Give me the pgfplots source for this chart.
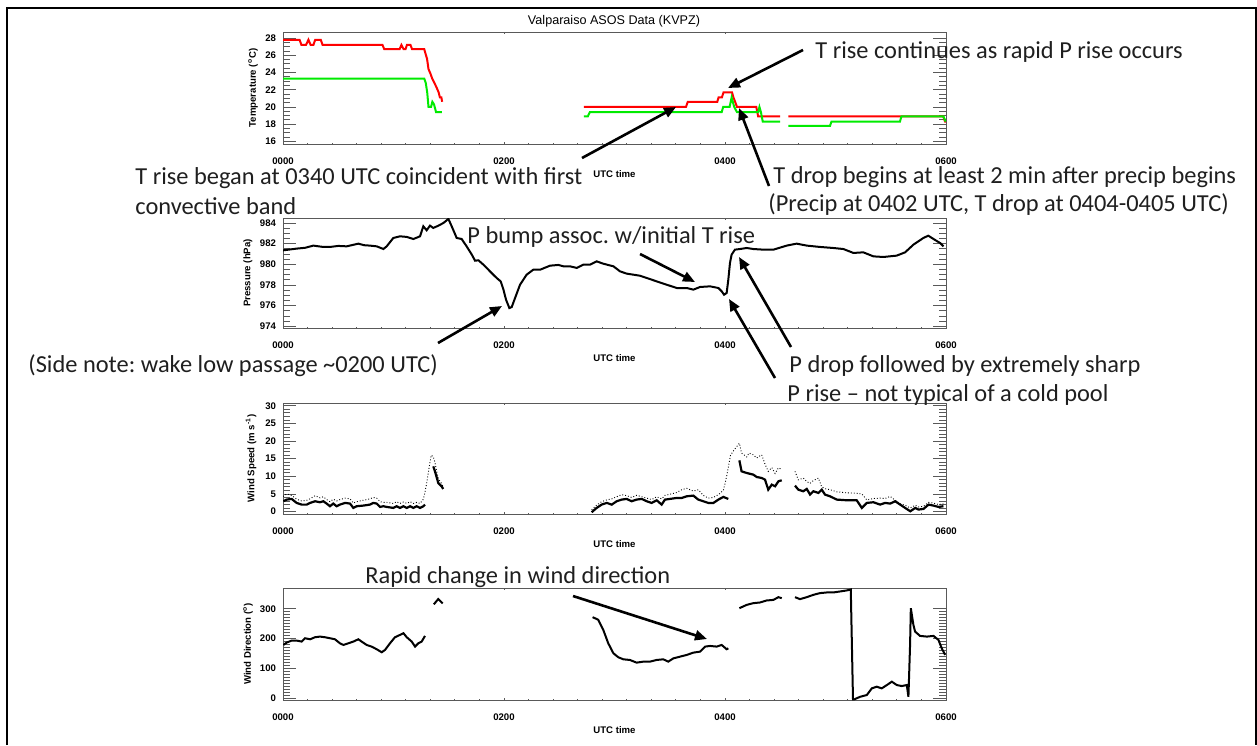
\documentclass[border=0pt]{standalone}
\usepackage{fontspec}
\setmainfont{Liberation Sans}
\newfontfamily\calibri{Carlito}
\usepackage{pgfplots}
\pgfplotsset{compat=1.18}
\usetikzlibrary{arrows.meta}
\definecolor{tred}{RGB}{255,0,0}
\definecolor{tgreen}{RGB}{0,235,0}
\newcommand{\smallf}{\fontsize{4.8}{5.5}\selectfont\bfseries}
\pgfplotsset{
  asos/.style={
    scale only axis, width=331.5pt, anchor=south west,
    xmin=0, xmax=360, xtick={0,120,240,360}, xticklabels={0000,0200,0400,0600},
    minor x tick num=8,
    tick align=inside,
    axis line style={black!65, line width=0.5pt},
    every tick/.style={black!65, line width=0.4pt},
    ticklabel style={font=\smallf},
    /pgf/number format/assume math mode=true,
    xlabel={UTC time},
    every axis x label/.style={at={(axis description cs:0.5,0)},anchor=center,yshift=-15pt,font=\smallf},
    xticklabel style={yshift=-3.4pt},
    major tick length=6.5pt, minor tick length=3.3pt,
    xtick style={/pgfplots/major tick length=1.1pt,/pgfplots/minor tick length=0.6pt},
  },
  ylab/.style={every axis y label/.style={at={(axis description cs:#1,0.5)},rotate=90,anchor=center,font=\smallf}},
}
\begin{document}
\frenchspacing
\begin{tikzpicture}
\begin{scope}[x=0.5pt,y=-0.5pt]
\path[use as bounding box] (0,0) rectangle (1257,745);
\draw[line width=1pt] (7,745) -- (7,8) -- (1256,8) -- (1256,745);
\node[font=\fontsize{6.3}{7}\selectfont, anchor=center] at (614,21) {Valparaiso ASOS Data (KVPZ)};
\end{scope}

% ---------------- Temperature
\begin{axis}[asos, at={(141.5pt,-72pt)}, height=56pt,
  ymin=15.7, ymax=28.7, ytick={16,18,...,28}, minor y tick num=3,
  ylabel={Temperature (\textsuperscript{o}C)}, ylab=-0.0452]
\addplot[tred, line width=1pt] coordinates {(0,27.8)(9,27.8)(10,27.2)(12.5,27.2)(13.8,27.8)(15,27.2)(16.5,27.2)(17.5,27.8)(20.5,27.8)(21.5,27.2)(54,27.2)(55,26.7)(63.3,26.7)(64.3,27.2)(65.5,26.7)(66.5,26.7)(67.3,27.2)(69.2,27.2)(70.1,26.7)(76.7,26.7)(77.5,26.1)(78.2,25.6)(79,24.4)(80,23.9)(81,23.3)(82.2,22.8)(83.5,22.2)(84.5,21.7)(85.2,21.1)(86,21.1)(86.4,20.6)};
\addplot[tred, line width=1pt] coordinates {(163.4,20.0)(218.8,20.0)(219.8,20.6)(235.8,20.6)(236.5,21.1)(238.3,21.1)(239.2,21.7)(243.8,21.7)(244.6,21.1)(245.5,20.6)(246.5,20.0)(257,20.0)(258,18.9)(269.9,18.9)};
\addplot[tred, line width=1pt] coordinates {(274.4,18.9)(358.5,18.9)(359.5,18.3)(360,18.3)};
\addplot[tgreen, line width=1pt] coordinates {(0,23.3)(76.7,23.3)(77.5,22.8)(78.3,21.7)(79,20)(80.4,20)(81.1,20.6)(82,20.3)(83.1,19.4)(86.2,19.4)};
\addplot[tgreen, line width=1pt] coordinates {(163.4,18.9)(165.5,18.9)(166.6,19.4)(238.2,19.4)(239,20)(242.5,20)(243.6,21.1)(245,20)(246.5,19.4)(258,19.4)(258.7,20)(259.5,19.4)(260.5,18.3)(269.9,18.3)};
\addplot[tgreen, line width=1pt] coordinates {(274.4,17.8)(297,17.8)(297.8,18.3)(335,18.3)(335.8,18.9)(358.6,18.9)(359.8,18.3)};
\end{axis}

% ---------------- Pressure
\begin{axis}[asos, at={(141.5pt,-164pt)}, height=55pt,
  ymin=973.84, ymax=984.48, ytick={974,976,...,984}, minor y tick num=3,
  ylabel={Pressure (hPa)}, ylab=-0.0528]
\addplot[black, line width=1pt] coordinates {(0,981.35)(7.4,981.52)(12,981.6)(16.5,981.81)(21,981.7)(25.5,981.68)(30,981.78)(34.6,981.74)(40.9,982.0)(44,981.85)(47.2,981.81)(50.9,981.74)(54.5,981.48)(56.3,981.74)(59.9,982.55)(63.5,982.71)(67.2,982.65)(70.8,982.45)(74.4,982.71)(76.2,983.68)(78.0,983.29)(79.8,983.74)(81.6,983.52)(84.4,983.74)(87.1,984.0)(89.8,984.39)(91.6,983.68)(94.3,982.55)(97.0,982.45)(99.7,981.74)(102.5,980.94)(104.3,980.35)(106.1,980.39)(108.8,979.97)(112.4,979.32)(116.0,978.68)(118.2,978.35)(119.7,977.55)(121.1,976.58)(122.9,975.77)(124.2,975.87)(126.0,976.74)(128.7,978.03)(132.3,979.0)(135.9,979.48)(139.6,979.48)(145.0,979.87)(149.5,979.94)(152.2,979.81)(155.8,979.81)(159.5,979.65)(163.1,979.97)(166.7,979.97)(170.3,980.29)(173.9,980.06)(179.4,979.81)(183.0,979.32)(186.6,979.10)(193.8,978.90)(197.5,978.68)(202.9,978.35)(208.3,978.03)(213.8,977.71)(219.2,977.71)(222.8,977.55)(226.5,977.81)(231.9,977.87)(236.4,977.71)(238.2,977.39)(239.5,977.06)(240.9,977.23)(241.8,978.52)(242.7,980.13)(243.6,980.94)(245.4,981.42)(248.1,981.48)(251.8,981.58)(255.4,981.48)(260.8,981.42)(266.3,981.42)(273.5,981.81)(278.9,982.0)(284.4,981.81)(291.6,981.68)(298.8,981.58)(304.3,981.48)(309.7,981.10)(315.1,981.16)(320.6,980.77)(326.0,980.71)(333.2,980.84)(337.8,981.16)(342.3,981.90)(347.7,982.55)(350.4,982.77)(353.2,982.45)(356.8,982.06)(358.6,981.74)};
\end{axis}

% ---------------- Wind speed
\begin{axis}[asos, at={(141.5pt,-257pt)}, height=55.5pt,
  ymin=-0.7, ymax=30.8, ytick={0,5,...,30}, minor y tick num=4,
  ylabel={Wind Speed (m s\textsuperscript{-1})}, ylab=-0.0483]
\addplot[black, densely dotted, line width=0.45pt] coordinates {(0,4.3)(2,5)(4.7,4.6)(7.4,3.5)(10.1,3.0)(12.9,3.2)(14.7,3.6)(17.4,4.5)(20.1,3.9)(21.9,4.2)(23.7,3.4)(25.5,2.8)(27.3,3.5)(29.1,3.0)(30.9,3.4)(33.7,3.8)(36.4,3.6)(38.2,2.4)(40,2.8)(43.6,3.2)(47.2,3.6)(49,4.0)(50.9,3.8)(52.7,2.8)(54.5,2.6)(56.3,2.6)(59.9,2.3)(61.7,2.8)(63.5,2.3)(65.4,2.7)(67.2,2.3)(69,2.8)(70.8,2.3)(72.6,2.6)(74.4,2.3)(76.2,3.5)(77.1,5.5)(78,8)(79.5,13)(80.5,16)(81.6,15.5)(82.5,14)(83.4,11.5)(84.3,9.5)(85.2,8.5)(86.1,8)(87,7)};
\addplot[black, densely dotted, line width=0.45pt] coordinates {(167.6,0.5)(170.3,1.8)(173,2.8)(175.8,3.3)(178.5,3.6)(181.2,4.2)(183.9,4.8)(186.6,4.5)(189.3,4.0)(192,4.6)(194.8,4.2)(197.5,3.8)(200.2,3.4)(202.9,4.2)(205.6,3.6)(207.4,4.6)(210.1,4.9)(213.8,5.4)(216.5,6.2)(219.2,6.6)(222.8,5.8)(225.5,6.2)(228.2,4.6)(230.9,3.8)(233.7,4.0)(236.4,4.8)(239.1,6.0)(240.5,9)(241.8,12.5)(243,16)(245,17.5)(247.8,19.4)(249,16.6)(251.8,15.5)(253,16.6)(255.4,16.1)(257.2,15.2)(259.9,16.1)(261.7,13.5)(263.5,11.4)(265.4,12.5)(267.2,10.8)(269,12.4)(270.8,12.0)};
\addplot[black, densely dotted, line width=0.45pt] coordinates {(278.0,11.4)(279.8,9.0)(282.5,9.5)(284.4,8.5)(286.2,8.0)(288,8.8)(290.7,9.5)(292.5,7.0)(294.3,6.5)(297,6.2)(300.7,5.6)(306.1,5.3)(311.5,5.2)(314.3,5.0)(317,3.3)(320.6,3.7)(324.2,3.8)(326.9,3.7)(329.7,4.3)(332.4,3.2)(335.1,2.2)(337.8,1.8)(340.6,1.0)(343.3,1.8)(345.1,1.3)(347.8,1.5)(350.5,2.6)(353.2,2.4)(355.9,2.0)(358.6,2.2)};
\addplot[black, line width=1.1pt] coordinates {(0.2,2.92)(2.0,3.39)(4.7,3.58)(7.4,2.45)(10.1,1.97)(12.9,1.97)(14.7,2.45)(17.4,2.92)(20.1,2.64)(21.9,2.92)(23.7,2.26)(25.5,1.51)(27.3,2.26)(29.1,1.51)(30.9,1.97)(33.7,2.45)(36.4,2.26)(38.2,1.03)(40.0,1.51)(43.6,1.69)(47.2,1.97)(49.0,2.45)(50.9,2.26)(52.7,1.31)(54.5,1.51)(56.3,1.31)(59.9,1.03)(61.7,1.51)(63.5,1.03)(65.4,1.51)(67.2,1.03)(69.0,1.51)(70.8,1.03)(72.6,1.51)(74.4,1.03)(76.2,1.51)(77.1,1.97)};
\addplot[black, line width=1.1pt] coordinates {(81.6,12.83)(82.5,11.42)(83.4,9.81)(84.3,8.11)(85.2,7.64)(86.1,7.17)(87.0,6.41)};
\addplot[black, line width=1.1pt] coordinates {(167.6,-0.2)(170.3,1.03)(173.0,1.97)(175.8,2.45)(178.5,1.97)(181.2,2.92)(183.9,3.39)(186.6,3.58)(189.3,2.92)(192.0,3.39)(194.8,3.58)(197.5,2.92)(200.2,2.45)(202.9,3.20)(205.6,1.97)(207.4,3.39)(210.1,3.58)(213.8,3.86)(216.5,3.86)(219.2,4.33)(222.8,4.52)(225.5,3.39)(228.2,2.92)(230.9,2.45)(233.7,2.45)(236.4,3.39)(239.1,4.15)(241.8,3.58)};
\addplot[black, line width=1.1pt] coordinates {(247.8,14.53)(249.0,11.42)(251.8,10.94)(255.4,10.47)(257.2,9.81)(259.9,9.53)(261.7,9.06)(263.5,6.22)(265.4,7.64)(267.2,7.17)(269.0,8.58)(270.8,8.87)};
\addplot[black, line width=1.1pt] coordinates {(278.0,7.36)(279.8,6.22)(282.5,5.75)(284.4,6.41)(286.2,4.81)(288.0,5.75)(290.7,5.28)(292.5,6.22)(294.3,4.81)(297.0,4.33)(300.7,3.39)(306.1,3.20)(311.5,3.20)(314.3,1.03)(317.0,2.45)(320.6,2.64)(324.2,1.97)(326.9,2.45)(329.7,2.26)(332.4,2.92)(335.1,1.97)(337.8,1.03)(340.6,0.08)(343.3,1.03)(345.1,0.56)(347.8,0.75)(350.5,1.97)(353.2,1.69)(355.9,1.31)(358.6,1.51)};
\end{axis}

% ---------------- Wind direction
\begin{axis}[asos, at={(141.5pt,-350pt)}, height=56pt,
  ymin=-7, ymax=370, ytick={0,100,200,300}, minor y tick num=9,
  ylabel={Wind Direction (\textsuperscript{o})}, ylab=-0.0528]
\addplot[black, line width=1pt] coordinates {(0.2,178.4)(2.0,186.3)(4.7,193.0)(7.4,193.0)(10.1,189.7)(11.9,200.9)(14.7,197.5)(17.4,204.3)(20.1,206.5)(22.8,204.3)(25.5,200.9)(28.2,197.5)(30.9,184.0)(32.8,178.4)(35.5,184.0)(38.2,189.7)(40.9,197.5)(42.7,189.7)(45.4,178.4)(48.1,172.8)(50.9,163.8)(53.6,153.7)(55.4,161.6)(58.1,184.0)(60.8,204.3)(63.5,212.1)(65.4,217.8)(67.2,204.3)(69.9,189.7)(71.7,172.8)(73.5,184.0)(75.3,189.7)(77.1,208.8)};
\addplot[black, line width=1pt] coordinates {(81.9,315)(84.3,333)(86.7,318)};
\addplot[black, line width=1pt] coordinates {(168.1,271.8)(169.5,268)(171.2,262.8)(173.9,229.1)(176.6,184.0)(179.4,150.3)(182.1,136.8)(184.8,130.0)(188.4,127.8)(192.0,118.8)(195.7,122.2)(199.3,122.2)(202.9,127.8)(206.5,130.0)(209.2,122.2)(212.0,133.4)(215.6,139.0)(219.2,144.7)(222.8,152.5)(226.5,155.9)(229.2,172.8)(231.9,175.0)(235.5,172.8)(238.2,178.4)(240.9,163.8)(241.8,167)};
\addplot[black, line width=1pt] coordinates {(247.8,302.1)(251.8,313.3)(255.4,319.0)(259.0,321.3)(262.6,328.0)(266.3,330.0)(269.0,339.2)(270.8,335.8)};
\addplot[black, line width=1pt] coordinates {(278.0,339.2)(280.7,332.5)(284.4,339.2)(288.0,347.1)(291.6,352.8)(295.2,355.0)(298.8,355.0)(302.5,358.4)(306.1,361.8)(308.3,365)(309.5,-5)(310.1,-5)(313.4,4.0)(317.0,9.7)(319.7,32.2)(322.4,37.8)(325.1,32.2)(327.9,43.4)(330.6,54.7)(333.3,43.4)(336.0,40.0)(338.7,43.4)(339.6,4.0)(340.5,180)(340.9,302.1)(342.3,246.0)(343.2,223.4)(345.9,208.8)(349.6,206.5)(353.2,208.8)(355.9,195.3)(357.7,167)(359.5,145)};
\end{axis}

% ---------------- Annotations
\begin{scope}[x=0.5pt,y=-0.5pt, every node/.style={font=\calibri\fontsize{12.2}{14}\selectfont, text=black!88, inner sep=0pt, anchor=base west},
  arr/.style={line width=1.3pt, -{Triangle[length=6pt,width=5pt]}}]
\node at (815,58) {T rise continues as rapid P rise occurs};
\node at (135,184) {T rise began at 0340 UTC coincident with first};
\node at (135,214) {convective band};
\node at (773,183) {T drop begins at least 2 min after precip begins};
\node at (768,211) {(Precip at 0402 UTC, T drop at 0404-0405 UTC)};
\node at (467,243) {P bump assoc. w/initial T rise};
\node at (28,372) {(Side note: wake low passage \textasciitilde0200 UTC)};
\node at (789,372) {P drop followed by extremely sharp};
\node at (787,401) {P rise – not typical of a cold pool};
\node at (365,583) {Rapid change in wind direction};
\draw[arr] (803,50) -- (728,88);
\draw[arr] (582,158) -- (676,107);
\draw[arr] (769,186) -- (739,108);
\draw[arr] (640,254) -- (695,282);
\draw[arr] (438,343) -- (502,306);
\draw[arr] (775,378) -- (729,299);
\draw[arr] (791,347) -- (739,257);
\draw[arr] (573,596) -- (707,639);
\end{scope}
\end{tikzpicture}
\end{document}
